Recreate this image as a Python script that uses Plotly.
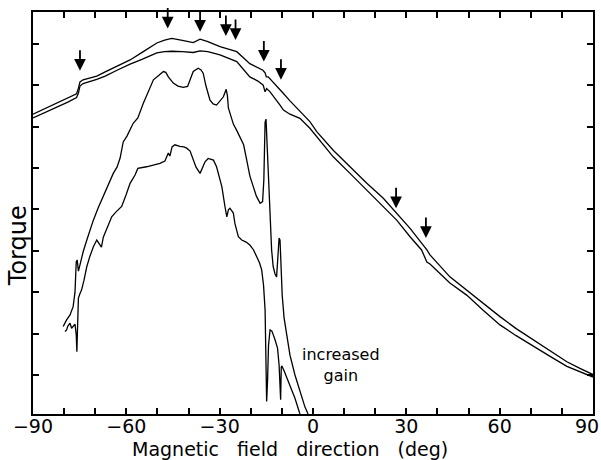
import plotly.graph_objects as go

# ---- data (angle in deg, torque in arbitrary units) ----
A_deg = [-90.0, -86.1, -82.0, -78.8, -76.0, -75.4, -74.9, -73.9, -69.5, -66.8, -63.0, -58.8, -54.8,
         -50.2, -47.7, -45.4, -42.0, -38.5, -36.3, -33.8, -29.9, -24.5, -20.3, -17.7, -16.1, -15.4,
         -15.0, -14.4, -12.5, -10.6, -9.5, -7.4, -4.2, -1.0, 1.2, 6.5, 11.9, 17.3, 22.6, 26.9, 31.2,
         36.6, 37.6, 44.0, 49.4, 54.6, 60.1, 65.3, 70.8, 76.2, 81.6, 85.8, 90.0]
A_torque = [7.30, 7.44, 7.58, 7.69, 7.79, 7.93, 8.08, 8.13, 8.22, 8.32, 8.45, 8.61, 8.80, 9.02, 9.09,
            9.13, 9.08, 9.03, 9.11, 9.05, 8.93, 8.81, 8.52, 8.42, 8.36, 8.30, 8.20, 8.20, 8.05, 7.88,
            7.80, 7.62, 7.36, 7.12, 6.88, 6.43, 6.03, 5.63, 5.27, 4.91, 4.54, 4.02, 3.90, 3.37, 3.05,
            2.73, 2.41, 2.12, 1.85, 1.58, 1.32, 1.16, 1.01]

B_deg = [-90.0, -86.1, -82.0, -78.8, -76.0, -75.4, -74.9, -73.9, -69.5, -66.8, -63.0, -58.8, -54.8,
         -50.2, -47.7, -45.4, -42.0, -38.5, -36.3, -33.8, -29.9, -24.5, -20.3, -17.7, -16.0, -15.4,
         -14.9, -13.8, -10.6, -9.5, -7.4, -4.2, -1.0, 6.5, 11.9, 17.3, 22.6, 26.9, 31.2, 34.9, 36.6,
         37.6, 44.0, 49.4, 54.6, 60.1, 65.3, 70.8, 76.2, 81.6, 85.8, 90.0]
B_torque = [7.21, 7.34, 7.49, 7.59, 7.70, 7.81, 7.98, 8.04, 8.14, 8.22, 8.36, 8.51, 8.63, 8.78, 8.81,
            8.82, 8.81, 8.79, 8.83, 8.81, 8.73, 8.57, 8.20, 8.10, 8.00, 7.84, 7.92, 7.84, 7.52, 7.40,
            7.30, 7.20, 6.96, 6.27, 5.87, 5.47, 5.07, 4.74, 4.34, 4.02, 3.73, 3.68, 3.22, 2.93, 2.57,
            2.21, 1.95, 1.69, 1.45, 1.21, 1.08, 0.95]

C_deg = [-80.3, -79.2, -78.1, -77.1, -76.5, -76.1, -75.8, -75.4, -74.9, -73.9, -72.7, -71.7, -70.6,
         -69.1, -67.4, -65.9, -64.2, -63.0, -62.0, -61.0, -59.8, -57.8, -56.3, -54.6, -53.0, -51.3,
         -49.8, -48.1, -47.3, -46.5, -44.9, -43.4, -41.7, -40.3, -39.5, -38.5, -36.9, -36.0, -35.3,
         -34.4, -33.1, -32.1, -31.0, -29.9, -28.8, -27.9, -27.5, -27.2, -25.6, -24.4, -23.5, -22.3,
         -21.3, -20.3, -19.2, -18.2, -17.0, -16.2, -15.8, -15.4, -15.1, -14.9, -14.4, -13.8, -13.3,
         -12.8, -12.2, -11.7, -11.3, -10.9, -10.6, -10.3, -9.9, -9.3, -7.4, -5.8, -4.2, -2.6, -1.6]
C_torque = [2.17, 2.33, 2.45, 2.65, 3.00, 3.73, 3.78, 3.51, 3.66, 3.97, 4.26, 4.50, 4.74, 5.03, 5.31,
            5.59, 5.87, 6.02, 6.24, 6.63, 6.77, 7.08, 7.21, 7.55, 7.85, 8.13, 8.22, 8.33, 8.31, 8.20,
            8.05, 7.98, 7.95, 7.97, 8.13, 8.33, 8.41, 8.37, 8.29, 7.98, 7.64, 7.55, 7.52, 7.62, 7.72,
            7.90, 7.74, 7.45, 7.06, 6.89, 6.75, 6.56, 6.19, 5.81, 5.55, 5.32, 5.15, 5.19, 5.71, 7.11,
            7.18, 6.80, 5.87, 4.66, 4.02, 3.62, 3.44, 3.37, 3.78, 4.31, 4.26, 3.66, 2.93, 2.38, 1.48,
            1.00, 0.59, 0.23, 0.06]

D_deg = [-79.7, -79.2, -78.8, -78.1, -77.6, -77.1, -76.5, -76.1, -75.9, -75.7, -75.4, -74.9, -74.4,
         -73.6, -72.7, -71.7, -70.6, -69.5, -68.8, -68.0, -67.4, -66.9, -65.9, -64.7, -63.3, -61.5,
         -60.1, -58.8, -57.2, -56.3, -53.5, -51.3, -49.2, -47.6, -46.9, -46.5, -46.0, -45.3, -44.4,
         -42.8, -41.5, -40.6, -39.5, -38.5, -37.6, -36.3, -35.4, -34.7, -33.7, -32.0, -31.0, -30.2,
         -29.3, -28.3, -27.7, -27.2, -26.7, -25.6, -25.1, -24.0, -22.9, -21.5, -20.3, -19.1, -18.1,
         -17.2, -16.5, -15.9, -15.4, -15.1, -14.9, -14.6, -14.3, -13.8, -13.2, -12.2, -11.4, -10.9,
         -10.6, -10.4, -10.2, -10.0, -9.3, -7.4, -5.8, -4.2]
D_torque = [2.05, 2.09, 2.18, 2.25, 2.13, 2.17, 2.23, 1.97, 1.56, 2.09, 2.86, 2.97, 3.05, 3.29, 3.62,
            3.87, 4.10, 4.26, 4.19, 4.09, 4.33, 4.43, 4.62, 4.82, 4.94, 5.07, 5.35, 5.63, 5.83, 5.99,
            6.03, 6.07, 6.11, 6.17, 6.27, 6.36, 6.29, 6.51, 6.56, 6.52, 6.51, 6.48, 6.41, 6.19, 6.02,
            5.87, 6.05, 6.15, 6.23, 6.19, 6.03, 5.81, 5.55, 5.07, 4.82, 4.99, 5.03, 4.91, 4.66, 4.34,
            4.26, 4.21, 4.14, 4.02, 3.86, 3.71, 3.54, 3.17, 2.57, 1.36, 0.36, 0.88, 1.72, 2.09, 2.06,
            1.85, 1.65, 1.24, 0.49, 0.40, 1.19, 1.22, 1.10, 0.76, 0.44, 0.06]

arrow_deg = [-74.9, -46.7, -36.3, -28.0, -24.9, -15.8, -10.3, 26.7, 36.3]
arrow_tip = [8.35, 9.37, 9.29, 9.19, 9.09, 8.57, 8.13, 5.03, 4.31]

x_tick_vals = list(range(-90, 91, 10))
x_label_vals = [-90, -60, -30, 0, 30, 60]          # drawn on the axis
x_edge_label = "90"                                 # right-edge label (would overflow the page)
x_tick_text = [("\u2212" + str(-v) if v < 0 else str(v)) if v in x_label_vals else ""
               for v in x_tick_vals]
y_tick_vals = list(range(1, 10))

FONT = "DejaVu Sans"

fig = go.Figure()
for xs, ys in [(A_deg, A_torque), (B_deg, B_torque), (C_deg, C_torque), (D_deg, D_torque)]:
    fig.add_trace(go.Scatter(x=xs, y=ys, mode="lines",
                             line=dict(color="black", width=1.3), showlegend=False))

for xd, yd in zip(arrow_deg, arrow_tip):
    fig.add_annotation(x=xd, y=yd, xref="x", yref="y", text="", showarrow=True,
                       ax=0, ay=-22, arrowhead=2, arrowsize=1.3, arrowwidth=1.8,
                       arrowcolor="black")

fig.add_annotation(x=9.1, y=1.23, xref="x", yref="y", text="increased<br>gain", showarrow=False,
                   align="center", borderpad=0,
                   font=dict(family=FONT, size=16, color="black"), xanchor="center", yanchor="middle")

fig.add_annotation(x=1.0125, y=-0.03, xref="paper", yref="paper", text=x_edge_label,
                   showarrow=False, borderpad=0, font=dict(family=FONT, size=19, color="black"),
                   xanchor="right", yanchor="middle")

fig.add_annotation(x=0.459, y=-0.0870, xref="paper", yref="paper",
                   text="Magnetic\u00a0\u00a0 field\u00a0\u00a0 direction\u00a0\u00a0 (deg)",
                   showarrow=False, borderpad=0,
                   font=dict(family=FONT, size=19, color="black"), xanchor="center", yanchor="middle")
fig.add_annotation(x=-0.0268, y=0.42, xref="paper", yref="paper", text="Torque", textangle=-90,
                   showarrow=False, font=dict(family=FONT, size=24, color="black"),
                   xanchor="center", yanchor="middle")

fig.update_xaxes(range=[-90, 90], tickmode="array", tickvals=x_tick_vals, ticktext=x_tick_text,
                 ticks="inside", ticklen=6, tickwidth=2, tickcolor="black",
                 showline=True, linewidth=2, linecolor="black", mirror="ticks",
                 showgrid=False, zeroline=False, automargin=False, ticklabelstandoff=-6,
                 tickfont=dict(family=FONT, size=19, color="black"))
fig.update_yaxes(range=[0.058, 9.768], tickmode="array", tickvals=y_tick_vals,
                 ticktext=[""] * len(y_tick_vals), automargin=False,
                 ticks="inside", ticklen=6, tickwidth=2, tickcolor="black",
                 showline=True, linewidth=2, linecolor="black", mirror="ticks",
                 showgrid=False, zeroline=False)

fig.update_layout(width=601, height=460, margin=dict(l=33, r=8, t=12, b=46),
                  plot_bgcolor="white", paper_bgcolor="white", showlegend=False)

fig.write_html("out.html", config={"displayModeBar": False},
               post_script="document.body.style.margin='0';document.body.style.padding='0';")
